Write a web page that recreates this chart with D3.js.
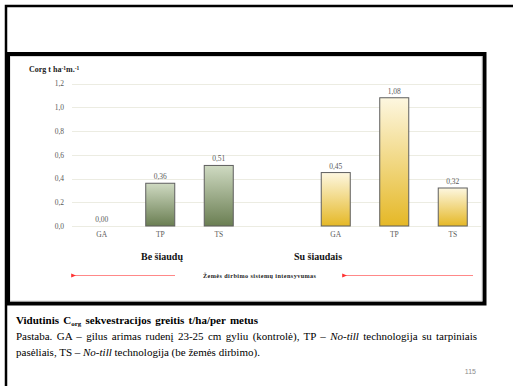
<!DOCTYPE html>
<html>
<head>
<meta charset="utf-8">
<script src="https://cdn.jsdelivr.net/npm/d3@7/dist/d3.min.js"></script>
<style>
  html, body { margin: 0; padding: 0; background: #fff; }
  svg { display: block; }
  .serif { font-family: "Liberation Serif", "Times New Roman", Times, "DejaVu Serif", serif; }
  .sans { font-family: "Liberation Sans", Arial, sans-serif; }
</style>
</head>
<body>
<svg id="chart" width="513" height="386"></svg>
<script>
// Sequestration rate data (t/ha per year)
const slots = ["GA1", "TP1", "TS1", "gap", "GA2", "TP2", "TS2"];
const categories = ["GA", "TP", "TS"];
const strawless = [0.00, 0.36, 0.51];   // Be šiaudų
const withStraw = [0.45, 1.08, 0.32];   // Su šiaudais
const yTicks = [0, 0.2, 0.4, 0.6, 0.8, 1.0, 1.2];
const groupNames = ["Be šiaudų", "Su šiaudais"];

const bars = [
  ...categories.map((c, i) => ({ slot: slots[i], cat: c, value: strawless[i], group: 0 })),
  ...categories.map((c, i) => ({ slot: slots[i + 4], cat: c, value: withStraw[i], group: 1 }))
];

const svg = d3.select("#chart");
const fmt = v => d3.format(".2f")(v).replace(".", ",");
const fmtTick = v => d3.format(".1f")(v).replace(".", ",");

// Page frame
svg.append("path")
  .attr("d", "M6,386 V6 H513")
  .attr("fill", "none").attr("stroke", "#000").attr("stroke-width", 2.5);

// Chart box
svg.append("rect")
  .attr("x", 7.5).attr("y", 54).attr("width", 477).attr("height", 249.5)
  .attr("fill", "#fff").attr("stroke", "#000").attr("stroke-width", 4);
svg.append("rect")
  .attr("x", 10).attr("y", 56.5).attr("width", 472).attr("height", 244.5)
  .attr("fill", "none").attr("stroke", "#c8c8c8").attr("stroke-width", 0.7);
svg.append("rect")
  .attr("x", 6).attr("y", 54).attr("width", 4).attr("height", 250).attr("fill", "#000");

const x = d3.scaleBand().domain(slots).range([72.5, 482])
  .paddingInner(0.487).paddingOuter(0.2435);
const y = d3.scaleLinear().domain([0, 1.2]).range([226, 83.5]);

// Gradients
const defs = svg.append("defs");
const grads = [
  { id: "gGreen", top: "#cfdac2", bottom: "#6a7e52" },
  { id: "gGold", top: "#fdf7e0", bottom: "#e5b826" }
];
grads.forEach(g => {
  const lg = defs.append("linearGradient").attr("id", g.id)
    .attr("x1", 0).attr("y1", 0).attr("x2", 0).attr("y2", 1);
  lg.append("stop").attr("offset", "0%").attr("stop-color", g.top);
  lg.append("stop").attr("offset", "100%").attr("stop-color", g.bottom);
});

// Gridlines
svg.append("g").selectAll("line").data(yTicks).join("line")
  .attr("x1", 72).attr("x2", 482)
  .attr("y1", d => Math.round(y(d)) + 0.5).attr("y2", d => Math.round(y(d)) + 0.5)
  .attr("stroke", "#ecece2").attr("stroke-width", 1);

// Y axis labels
const yAxis = d3.axisLeft(y).tickValues(yTicks).tickFormat(fmtTick).tickSize(0).tickPadding(0);
const yg = svg.append("g").attr("transform", "translate(64,0)").call(yAxis);
yg.select(".domain").remove();
yg.attr("font-family", null).attr("font-size", null);
yg.selectAll("text").attr("class", "serif")
  .style("font-size", "7.5px").attr("fill", "#595959");

// Axis title
const title = svg.append("text").attr("class", "serif").attr("x", 29).attr("y", 72)
  .style("font-size", "8px").attr("font-weight", "bold").attr("fill", "#222");
title.append("tspan").text("Corg t ha");
title.append("tspan").attr("dy", -2.5).style("font-size", "5.5px").text("-1");
title.append("tspan").attr("dy", 2.5).text("m.");
title.append("tspan").attr("dy", -2.5).style("font-size", "5.5px").text("-1");

// Bars
svg.append("g").selectAll("rect").data(bars.filter(d => d.value > 0)).join("rect")
  .attr("x", d => x(d.slot) + 0.5)
  .attr("y", d => y(d.value))
  .attr("width", x.bandwidth() - 1)
  .attr("height", d => y(0) - y(d.value))
  .attr("fill", d => d.group === 0 ? "url(#gGreen)" : "url(#gGold)")
  .attr("stroke", "#5e5e5e").attr("stroke-width", 1);

// Value labels
svg.append("g").selectAll("text").data(bars).join("text")
  .attr("class", "serif")
  .attr("x", d => x(d.slot) + x.bandwidth() / 2)
  .attr("y", d => y(d.value) - 4)
  .attr("text-anchor", "middle")
  .style("font-size", "7.5px").attr("fill", "#5a5a5a")
  .text(d => fmt(d.value));

// Category labels
const xAxis = d3.axisBottom(x).tickFormat(s => s === "gap" ? "" : s.slice(0, 2)).tickSize(0).tickPadding(0);
const xg = svg.append("g").attr("transform", "translate(0,232)").call(xAxis);
xg.select(".domain").remove();
xg.attr("font-family", null).attr("font-size", null);
xg.selectAll("text").attr("class", "serif")
  .style("font-size", "7.5px").attr("fill", "#5a5a5a");

// Group labels
const groupX = [162, 318];
svg.append("g").selectAll("text").data(groupNames).join("text")
  .attr("class", "serif")
  .attr("x", (d, i) => groupX[i]).attr("y", 260)
  .attr("text-anchor", "middle")
  .style("font-size", "10px").attr("font-weight", "bold").attr("fill", "#111")
  .text(d => d);

// Intensity arrows
defs.append("marker").attr("id", "arrowHead")
  .attr("viewBox", "0 0 10 10").attr("refX", 2).attr("refY", 5)
  .attr("markerWidth", 6).attr("markerHeight", 6).attr("orient", "auto")
  .append("path").attr("d", "M10,1 L0,5 L10,9 Z").attr("fill", "#ff3030");
const arrows = [[175, 75], [473, 346]];
svg.append("g").selectAll("line").data(arrows).join("line")
  .attr("x1", d => d[0]).attr("x2", d => d[1])
  .attr("y1", 275.5).attr("y2", 275.5)
  .attr("stroke", "#ff6a6a").attr("stroke-width", 0.8)
  .attr("marker-end", "url(#arrowHead)");
svg.append("text").attr("class", "serif").attr("x", 203).attr("y", 277.5)
  .style("font-size", "6.2px").attr("font-weight", "bold").attr("fill", "#222")
  .attr("textLength", 113).attr("lengthAdjust", "spacing")
  .text("Žemės dirbimo  sistemų intensyvumas");

// Stretch a text line to a given width by widening its word gaps
function justify(sel, width) {
  const node = sel.node();
  const natural = node.getComputedTextLength();
  const gaps = (node.textContent.match(/ /g) || []).length;
  if (gaps > 0 && natural < width) sel.attr("word-spacing", (width - natural) / gaps);
}

// Caption below the chart
const cap = svg.append("text").attr("class", "serif").attr("x", 16).attr("y", 324)
  .style("font-size", "11px").attr("font-weight", "bold").attr("fill", "#000");
cap.append("tspan").text("Vidutinis C");
cap.append("tspan").attr("dy", 2).style("font-size", "7px").text("org");
cap.append("tspan").attr("dy", -2).text(" sekvestracijos greitis t/ha/per metus");
justify(cap, 242);

const note1 = svg.append("text").attr("class", "serif").attr("x", 16).attr("y", 339.5)
  .style("font-size", "11px").attr("fill", "#000");
note1.append("tspan").text("Pastaba. GA – gilus arimas rudenį 23-25 cm gyliu (kontrolė), TP – ");
note1.append("tspan").attr("font-style", "italic").text("No-till");
note1.append("tspan").text(" technologija su tarpiniais");
justify(note1, 461);

const note2 = svg.append("text").attr("class", "serif").attr("x", 16).attr("y", 355.5)
  .style("font-size", "11px").attr("fill", "#000");
note2.append("tspan").text("pasėliais, TS – ");
note2.append("tspan").attr("font-style", "italic").text("No-till");
note2.append("tspan").text(" technologija (be žemės dirbimo).");

// Page number
svg.append("text").attr("class", "sans").attr("x", 476).attr("y", 374).attr("text-anchor", "end")
  .style("font-size", "7px").attr("fill", "#8c8c8c").text("115");
</script>
</body>
</html>
